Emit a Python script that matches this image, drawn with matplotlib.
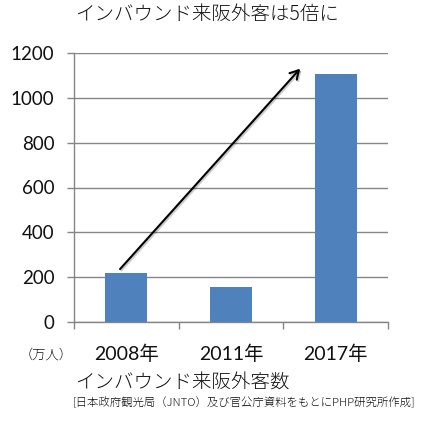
import matplotlib
matplotlib.use("Agg")
import matplotlib.pyplot as plt
import matplotlib.patheffects as pe

categories = ["2008年", "2011年", "2017年"]
values = [220, 156, 1108]
yticks = [0, 200, 400, 600, 800, 1000, 1200]
title = "インバウンド来阪外客は5倍に"
xlabel = "インバウンド来阪外客数"
source = "[日本政府観光局（JNTO）及び官公庁資料をもとにPHP研究所作成]"
unit = "（万人）"
arrow_start = (-0.06, 236)
arrow_end = (1.66, 1130)

plt.rcParams['font.family'] = ['Lato', 'Noto Sans CJK JP', 'DejaVu Sans']
W, H = 424, 421
fig = plt.figure(figsize=(W/100, H/100), dpi=100)
ax = fig.add_axes([74/W, 1-322/H, 314/W, 269/H])

x = list(range(len(categories)))
ax.bar(x, values, width=0.4, color="#4F81BD", zorder=3)
ax.set_xlim(-0.5, len(categories)-0.5)
ax.set_ylim(0, 1200)
ax.set_yticks(yticks)
ax.set_yticklabels([str(v) for v in yticks])
ax.yaxis.grid(True, color="#868686", lw=1.0, zorder=0)
ax.set_axisbelow(True)
ax.set_xticks(x)
ax.set_xticklabels(categories)
ax.set_xticks([i-0.5 for i in range(len(categories)+1)], minor=True)

for s in ['top', 'right']:
    ax.spines[s].set_visible(False)
for s in ['left', 'bottom']:
    ax.spines[s].set_color("#868686")
    ax.spines[s].set_linewidth(1.0)

ax.tick_params(axis='y', direction='out', length=5, width=1, color="#868686",
               labelsize=13.5, pad=9, labelcolor="#111111")
ax.tick_params(axis='x', which='major', length=0, labelsize=14, pad=16, labelcolor="#111111")
ax.tick_params(axis='x', which='minor', direction='out', length=5, width=1, color="#868686")

ax.annotate("", xy=arrow_end, xytext=arrow_start,
            arrowprops=dict(arrowstyle="->,head_length=0.6,head_width=0.35", lw=1.5, color="black",
                            shrinkA=0, shrinkB=0,
                            path_effects=[pe.SimpleLineShadow(offset=(1, -1), alpha=0.2), pe.Normal()]),
            zorder=5)

cjk = ['Noto Sans CJK JP', 'DejaVu Sans']
fig.text(207/W, 1-14/H, title, ha='center', va='center', fontsize=14, family=cjk,
         fontweight='light', color="#111111")
fig.text(46/W, 1-355/H, unit, ha='center', va='center', fontsize=9.5, family=cjk,
         fontweight='light', color="#111111")
fig.text(75/W, 1-383/H, xlabel, ha='left', va='center', fontsize=14, family=cjk,
         fontweight='light', color="#111111")
fig.text(73/W, 1-403/H, source, ha='left', va='center', fontsize=8.2, family=cjk,
         fontweight='light', color="#111111")

fig.savefig("out.png", dpi=100)
